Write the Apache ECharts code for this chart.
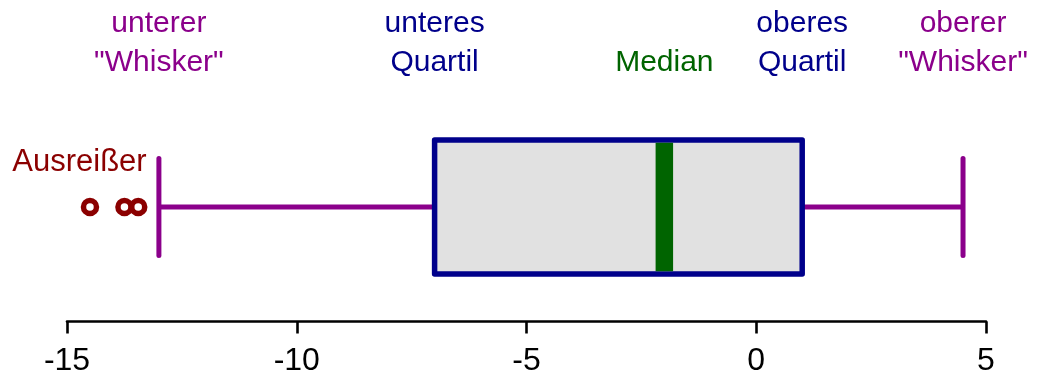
<!DOCTYPE html>
<html>
<head>
<meta charset="utf-8">
<script src="https://cdn.jsdelivr.net/npm/echarts@6/dist/echarts.min.js"></script>
<style>
  html, body { margin: 0; padding: 0; background: #fff; }
  #chart { width: 1037px; height: 381px; }
</style>
</head>
<body>
<div id="chart"></div>
<script>
// ---- data ----
const boxStats = [-13, -7, -2, 1, 4.5]; // lower whisker, Q1, median, Q3, upper whisker
const outliers = [-14.5, -13.75, -13.45];
const statLabels = ['unterer\n"Whisker"', 'unteres\nQuartil', 'Median', 'oberes\nQuartil', 'oberer\n"Whisker"'];
const outlierLabel = 'Ausreißer';
const xTicks = [-15, -10, -5, 0, 5];

// ---- layout / style ----
const FONT = '"Liberation Sans", Arial, Helvetica, sans-serif';
const BOX_Y = 114.5;          // vertical centre of the box, in px above axis
const C_WHISK = '#8B008B';
const C_BOX = '#00008B';
const C_MED = '#006400';
const C_OUT = '#8B0000';
const labelColors = [C_WHISK, C_BOX, C_MED, C_BOX, C_WHISK];

const chart = echarts.init(document.getElementById('chart'), null, { renderer: 'canvas' });

function renderBox(params, api) {
  const lw = api.value(0), q1 = api.value(1), med = api.value(2), q3 = api.value(3), uw = api.value(4);
  const yc = api.coord([0, BOX_Y])[1];
  const px = v => api.coord([v, BOX_Y])[0];
  const boxH = 134, capH = 97;
  const children = [];
  // whisker lines
  children.push({ type: 'line', shape: { x1: px(lw), y1: yc, x2: px(q1), y2: yc },
    style: { stroke: C_WHISK, lineWidth: 5 } });
  children.push({ type: 'line', shape: { x1: px(q3), y1: yc, x2: px(uw), y2: yc },
    style: { stroke: C_WHISK, lineWidth: 5 } });
  // caps
  [lw, uw].forEach(v => children.push({ type: 'line',
    shape: { x1: px(v), y1: yc - capH / 2, x2: px(v), y2: yc + capH / 2 },
    style: { stroke: C_WHISK, lineWidth: 5, lineCap: 'round' } }));
  // box
  children.push({ type: 'rect',
    shape: { x: px(q1), y: yc - boxH / 2, width: px(q3) - px(q1), height: boxH },
    style: { fill: '#E1E1E1', stroke: C_BOX, lineWidth: 5.5, lineJoin: 'round' } });
  // median
  children.push({ type: 'line',
    shape: { x1: px(med), y1: yc - boxH / 2 + 2.75, x2: px(med), y2: yc + boxH / 2 - 2.75 },
    style: { stroke: C_MED, lineWidth: 17.5 } });
  // labels
  const vals = [lw, q1, med, q3, uw];
  vals.forEach((v, i) => {
    const twoLine = statLabels[i].indexOf('\n') >= 0;
    children.push({ type: 'text',
      style: { text: statLabels[i], x: px(v), y: twoLine ? 43.5 : 62.5,
        align: 'center', verticalAlign: 'middle', fill: labelColors[i],
        font: '30px ' + FONT, lineHeight: 39 } });
  });
  // outlier label
  children.push({ type: 'text',
    style: { text: outlierLabel, x: px(outliers[0]) - 10.5, y: yc - 45,
      align: 'center', verticalAlign: 'middle', fill: C_OUT,
      font: '31px ' + FONT } });
  return { type: 'group', children };
}

chart.setOption({
  animation: false,
  backgroundColor: '#fff',
  grid: { left: 67, right: 51, top: 0, bottom: 59.5, containLabel: false },
  xAxis: {
    type: 'value', min: xTicks[0], max: xTicks[xTicks.length - 1], interval: 5,
    splitLine: { show: false },
    axisLine: { show: true, onZero: false, lineStyle: { color: '#000', width: 2.6 } },
    axisTick: { show: true, length: 12, lineStyle: { color: '#000', width: 2.6 } },
    axisLabel: { color: '#000', fontSize: 32, fontFamily: FONT, margin: 24,
      formatter: v => String(v) }
  },
  yAxis: { type: 'value', min: 0, max: 321.5, show: false },
  series: [
    { type: 'custom', renderItem: renderBox, data: [boxStats],
      encode: { x: [0, 1, 2, 3, 4] }, clip: false, z: 2 },
    { type: 'scatter', data: outliers.map(v => [v, BOX_Y]),
      symbol: 'circle', symbolSize: 13,
      itemStyle: { color: '#fff', borderColor: C_OUT, borderWidth: 5.5, opacity: 1 },
      z: 3 }
  ]
});
</script>
</body>
</html>
